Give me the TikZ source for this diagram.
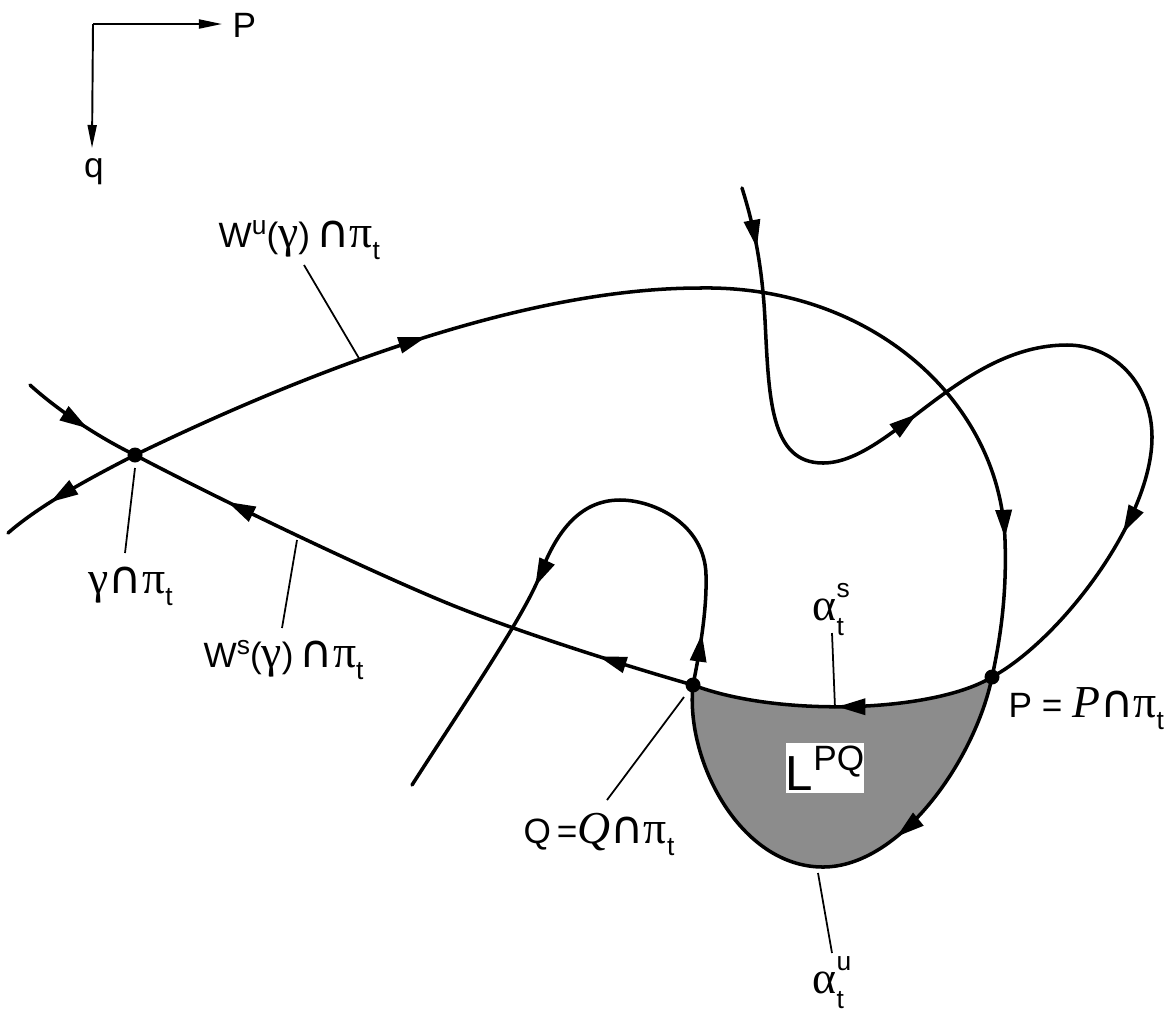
\documentclass[tikz,border=0pt]{standalone}
\usepackage{fontspec}
\setmainfont{Liberation Sans}
\newfontfamily\grkfont{Liberation Serif}[Scale=1.3]
\newfontfamily\capfont{DejaVu Sans}[Scale=1.3]
\usetikzlibrary{arrows.meta,decorations.markings}
\newcommand{\myga}{{\grkfont γ}}
\newcommand{\mycap}{{\capfont ∩}}
\newcommand{\mysb}[1]{\raisebox{-3.5pt}{\fontsize{7.5}{8}\selectfont #1}}
\newcommand{\mysp}[1]{\raisebox{3.5pt}{\fontsize{7.5}{8}\selectfont #1}}
\newcommand{\mypit}{{\grkfont π}\mysb{t}}
\newcommand{\myal}[1]{{\grkfont α}\rlap{\raisebox{6.5pt}{\fontsize{7.5}{8}\selectfont #1}}\raisebox{-4.5pt}{\fontsize{7.5}{8}\selectfont t}}
\begin{document}
\begin{tikzpicture}[x=0.01cm,y=-0.01cm,
  font=\fontsize{10}{12}\selectfont,
  curve/.style={line width=1.0pt,line cap=round},
  ptr/.style={line width=0.5pt},
  axisln/.style={line width=0.55pt},
  arr/.style={postaction={decorate},decoration={markings,mark=at position #1 with {\arrow{Triangle[length=2.8mm,width=1.6mm]}}}},
  dot/.style={circle,fill=black,inner sep=0pt,minimum size=1.5mm},
  lbl/.style={inner sep=0pt,anchor=base west}]
\useasboundingbox (0,0) rectangle (1167,1011);

% key points
\coordinate (G) at (135,455);
\coordinate (P) at (992,677);
\coordinate (Q) at (693,685);
\coordinate (B) at (823,867);

% shaded lobe
\fill[black!45] (P) .. controls (975,760) and (900,867) .. (B)
  .. controls (740,867) and (685,760) .. (Q)
  .. controls (780,718) and (935,712) .. (P) -- cycle;

% unstable manifold
\draw[curve,arr=0.53] (G) .. controls (300,375) and (520,288) .. (700,288);
\draw[curve,arr=0.995] (700,288) .. controls (870,285) and (1000,400) .. (1005,540);
\draw[curve] (1005,540) .. controls (1007,596) and (1000,640) .. (P);
\draw[curve,arr=0.70] (P) .. controls (975,760) and (900,867) .. (B);
\draw[curve] (B) .. controls (740,867) and (685,760) .. (Q);
\draw[curve,arr=0.47] (Q) .. controls (700,650) and (707,610) .. (706,575);
\draw[curve] (706,575) .. controls (705,525) and (655,500) .. (620,500);
\draw[curve] (620,500) .. controls (578,500) and (555,535) .. (540,575);
\draw[curve,arr=0.05] (540,575) .. controls (525,615) and (460,710) .. (412,785);
\draw[curve,arr=0.65] (G) .. controls (90,478) and (40,505) .. (8,533);

% stable manifold
\draw[curve,arr=0.46] (742,188) .. controls (752,220) and (762,260) .. (765,320);
\draw[curve] (765,320) .. controls (769,398) and (770,463) .. (823,463);
\draw[curve,arr=0.39] (823,463) .. controls (890,463) and (960,345) .. (1067,345);
\draw[curve] (1067,345) .. controls (1115,345) and (1152,385) .. (1152,437);
\draw[curve,arr=0.34] (1152,437) .. controls (1152,520) and (1060,640) .. (P);
\draw[curve,arr=0.52] (P) .. controls (935,712) and (780,718) .. (Q);
\draw[curve,arr=0.38] (Q) .. controls (640,670) and (520,633) .. (447,603);
\draw[curve,arr=0.70] (447,603) .. controls (374,573) and (230,505) .. (G);
\draw[curve,arr=0.57] (30,385) .. controls (60,412) and (100,438) .. (G);

% points
\node[dot] (gd) at (G) {};
\node[dot] (pd) at (P) {};
\node[dot] (qd) at (Q) {};

% L^PQ
\node[fill=white,inner sep=0pt,minimum width=0.66cm,minimum height=0.5cm] (lpq) at (825,768)
  {{\fontsize{14}{16}\selectfont L}\raisebox{5.7pt}{PQ}};

% labels
\node[lbl] (lwu) at (218,247) {W\mysp{u}(\myga)\,\mycap\mypit};
\node[lbl] (lws) at (203,667) {W\mysp{s}(\myga)\,\mycap\mypit};
\node[lbl] (lg) at (88,593) {\myga\mycap\mypit};
\node[lbl] (lq) at (523,843) {Q\,={\grkfont\itshape Q}\mycap\mypit};
\node[lbl] (lp) at (1008,717) {P = {\grkfont\itshape P}\mycap\mypit};
\node[lbl] (las) at (812,620) {\myal{s}};
\node[lbl] (lau) at (812,993) {\myal{u}};

% pointer lines
\coordinate (wu1) at (304,265); \coordinate (wu2) at (360,360);
\coordinate (ws1) at (282,628); \coordinate (ws2) at (297,540);
\coordinate (g1) at (125,553);  \coordinate (g2) at (135,468);
\coordinate (q1) at (607,800);  \coordinate (q2) at (684,697);
\coordinate (as1) at (832,633); \coordinate (as2) at (835,708);
\coordinate (au1) at (832,953); \coordinate (au2) at (818,873);
\draw[ptr] (wu1) -- (wu2);
\draw[ptr] (ws1) -- (ws2);
\draw[ptr] (g1) -- (g2);
\draw[ptr] (q1) -- (q2);
\draw[ptr] (as1) -- (as2);
\draw[ptr] (au1) -- (au2);

% axes
\coordinate (O) at (93,24);
\node[lbl] (pax) at (232,37) {P};
\node[anchor=base,inner sep=0pt] (qax) at (94,177) {q};
\draw[axisln,-{Triangle[length=2.3mm,width=0.9mm]}] (O) -- (222,24);
\draw[axisln,-{Triangle[length=2.3mm,width=0.9mm]}] (O) -- (92,148);
\end{tikzpicture}
\end{document}
